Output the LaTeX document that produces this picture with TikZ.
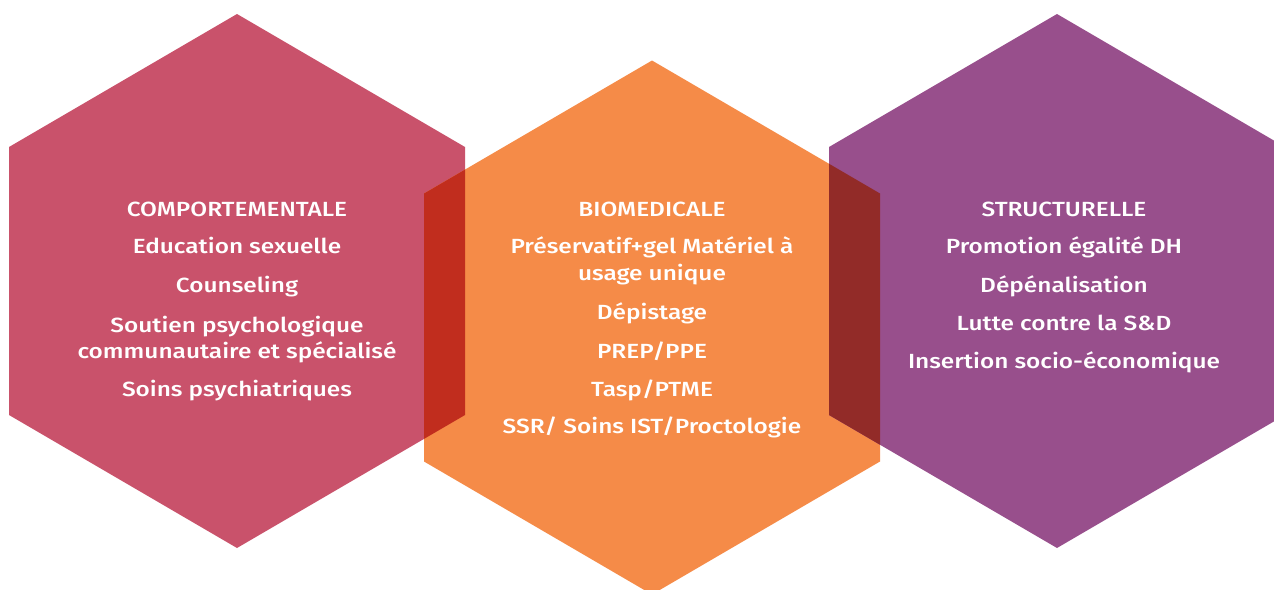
\documentclass[tikz,border=0pt]{standalone}
\usepackage{fontspec}
\setmainfont{Fira Sans Medium}[FakeStretch=1.19]
\definecolor{hpink}{RGB}{201,82,107}
\definecolor{horange}{RGB}{245,139,72}
\definecolor{hpurple}{RGB}{152,79,140}
\definecolor{hlm}{RGB}{193,45,30}
\definecolor{hmr}{RGB}{146,43,40}
\begin{document}
\begin{tikzpicture}[x=1pt,y=-1pt,
  lbl/.style={text=white,anchor=base,inner sep=0pt,font=\fontsize{20.5}{24}\selectfont}]
\useasboundingbox (0,0) rectangle (1274,589);
\def\hexL{(237,14) -- (465,147) -- (465,415) -- (237,548) -- (9,415) -- (9,147) -- cycle}
\def\hexM{(652,60.5) -- (880,193.5) -- (880,461.5) -- (652,594.5) -- (424,461.5) -- (424,193.5) -- cycle}
\def\hexR{(1057,14) -- (1285,147) -- (1285,415) -- (1057,548) -- (829,415) -- (829,147) -- cycle}
\fill[hpink] \hexL;
\fill[horange] \hexM;
\fill[hpurple] \hexR;
\begin{scope}
  \clip \hexL;
  \fill[hlm] \hexM;
\end{scope}
\begin{scope}
  \clip \hexR;
  \fill[hmr] \hexM;
\end{scope}
% left texts
\node[lbl] (l0) at (237,216) {COMPORTEMENTALE};
\node[lbl] (l1) at (237,253) {Education sexuelle};
\node[lbl] (l2) at (237,292) {Counseling};
\node[lbl] (l3) at (237,332) {Soutien psychologique};
\node[lbl] (l4) at (237,358) {communautaire et spécialisé};
\node[lbl] (l5) at (237,396) {Soins psychiatriques};
% middle texts
\node[lbl] (m0) at (652,216) {BIOMEDICALE};
\node[lbl] (m1) at (652,253) {Préservatif+gel Matériel à};
\node[lbl] (m2) at (652,280) {usage unique};
\node[lbl] (m3) at (652,319) {Dépistage};
\node[lbl] (m4) at (652,358) {PREP/PPE};
\node[lbl] (m5) at (652,396) {Tasp/PTME};
\node[lbl] (m6) at (652,433) {SSR/ Soins IST/Proctologie};
% right texts
\node[lbl] (r0) at (1064,216) {STRUCTURELLE};
\node[lbl] (r1) at (1064,253) {Promotion égalité DH};
\node[lbl] (r2) at (1064,292) {Dépénalisation};
\node[lbl] (r3) at (1064,330) {Lutte contre la S\&D};
\node[lbl] (r4) at (1064,368) {Insertion socio-économique};
\end{tikzpicture}
\end{document}
